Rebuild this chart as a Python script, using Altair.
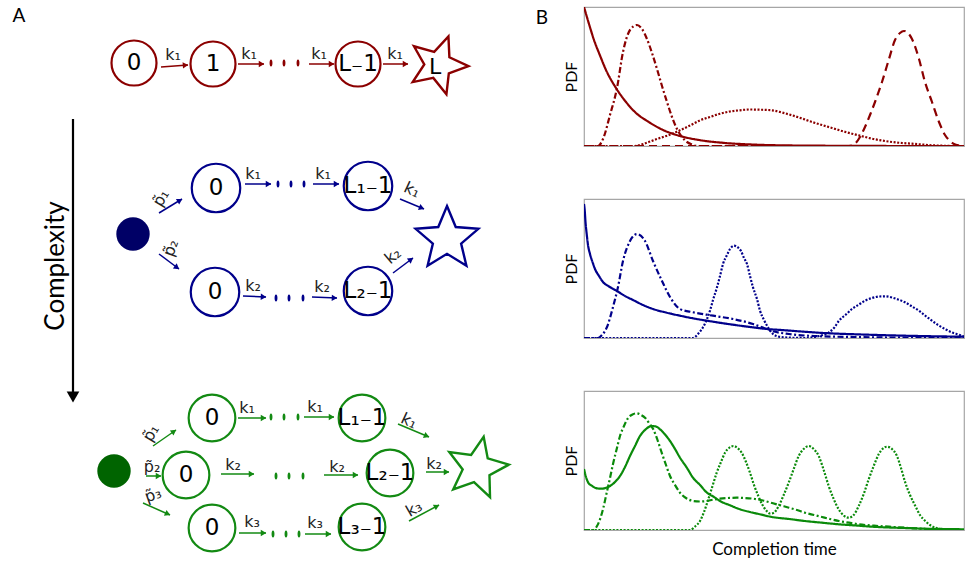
import math
import altair as alt
import pandas as pd

# ---------------- Panel B : curve values (x: time units, y: density units) ----------------
RED_SOLID_X = [0, 5, 10, 16, 22, 32, 42, 52, 64, 78, 96, 115, 140, 170, 210, 260, 320, 380]
RED_SOLID_Y = [139, 122, 106, 90.5, 76, 58, 44, 33, 24.5, 16.5, 10, 6, 3.1, 1.4, 0.5, 0.2, 0, 0]
RED_DASHDOT_X = [0, 14, 19, 26, 33, 39, 46, 53, 58, 63, 68, 73, 78, 83, 88, 93, 98, 103, 108, 113, 380]
RED_DASHDOT_Y = [0, 0, 7, 31, 58, 94, 116, 121, 117, 107, 93, 77, 60, 44, 29, 17, 9, 4, 1.5, 0, 0]
RED_DOTTED_X = [0, 50, 62, 73, 85, 96, 106, 116, 126, 136, 146, 156, 166, 176, 188, 198, 208, 218, 228,
                238, 248, 258, 268, 278, 288, 298, 308, 318, 328, 338, 348, 358, 368, 380]
RED_DOTTED_Y = [0, 0, 3, 7, 11, 15.7, 20.5, 25.7, 29, 32.3, 34.5, 35.7, 36.5, 36.3, 35.7, 33.5, 30.7, 27.5,
                24, 21, 18, 15, 12.3, 9.8, 7.3, 5.5, 4, 3, 2.3, 1.5, 0.7, 0.3, 0, 0]
RED_DASHED_X = [0, 265, 271, 276, 281, 286, 291, 298, 305, 311, 316, 320, 324, 328, 335, 341, 348, 355,
                361, 366, 370, 375, 380]
RED_DASHED_Y = [0, 0, 2.3, 9, 19, 31, 44, 64, 87, 106, 113, 115, 113, 107, 87, 64, 44, 24, 11, 5, 2, 0.5, 0]

BLUE_SOLID_X = [0, 0.7, 1.5, 2.7, 4, 6, 8.5, 11, 15, 19, 25, 33, 41, 49, 59, 69, 82, 96, 110, 123, 136,
                149, 166, 183, 200, 220, 245, 275, 305, 340, 380]
BLUE_SOLID_Y = [134, 128, 116, 104, 93, 84, 76, 69, 62, 56, 51.5, 47, 42, 38, 33, 29, 25.5, 22.3, 19.5,
                17.3, 15.2, 13.3, 11, 9, 7.8, 6.3, 4.7, 3.6, 2.7, 1.9, 1.3]
BLUE_DASHDOT_X = [0, 14, 18, 23, 29, 34, 39, 46, 53, 61, 69, 78, 86, 96, 109, 129, 149, 169, 180, 190,
                  205, 230, 270, 380]
BLUE_DASHDOT_Y = [0, 0, 3, 11, 31, 51, 77, 97, 104, 97, 77, 57, 41, 29, 25.7, 22.3, 19, 14, 10, 6.5, 4,
                  2, 1, 0]
BLUE_DOTTED_X = [0, 109, 114, 119, 123, 126, 129, 133, 136, 139, 143, 146, 150, 154, 157, 160, 163, 166,
                 169, 173, 176, 180, 183, 186, 189, 194, 200, 221, 235, 245, 250, 255, 262, 268, 275, 281,
                 288, 295, 301, 308, 314, 321, 328, 335, 341, 348, 354, 361, 368, 375, 380]
BLUE_DOTTED_Y = [0, 0, 4, 10.7, 19, 27.3, 38, 50.7, 62, 74, 83, 89, 92.3, 90.5, 87, 80, 74, 62, 50.7,
                 39, 27.3, 18, 12.3, 7.5, 4, 1.5, 0.7, 0, 2, 5.7, 10, 17.3, 23.5, 29, 33.5, 37.3, 40, 41.5,
                 41.7, 40.5, 38.5, 35.7, 31.5, 27.3, 22.5, 17.3, 13, 9, 5.5, 3.3, 1.3]

GREEN_SOLID_X = [0, 2, 4.3, 7.5, 11, 14, 17.7, 22, 26, 31, 36, 41, 46, 51, 56, 61, 67.7, 72, 76, 81, 86,
                 91, 96, 103, 109, 116, 123, 130, 136, 146, 156, 166, 176, 188, 205, 221, 238, 255, 272,
                 288, 305, 321, 340, 360, 380]
GREEN_SOLID_Y = [61, 53, 47.3, 44.5, 42.3, 41.5, 41.3, 42.2, 44, 48, 54, 63, 74, 84, 94, 100, 104, 103.5,
                 100.7, 95.5, 89, 81, 72.3, 62, 52.3, 45, 37.3, 33, 29, 24.7, 20.7, 18, 15.7, 13, 11, 9,
                 7.3, 5.7, 4.5, 3.3, 2.5, 2, 1.3, 1, 0.7]
GREEN_DASHDOT_X = [0, 9.3, 13, 16, 19.3, 22.7, 26, 29.3, 32.7, 36, 40, 44.3, 48.5, 52.7, 57, 61, 65, 69.3,
                   73.5, 77.7, 82, 86, 91, 96, 102, 109.3, 116, 122.7, 129, 136, 144, 152.7, 161, 169.3,
                   179, 189, 197, 205, 213, 221, 230, 238, 246, 255, 265, 275, 290, 305, 320, 338, 358, 380]
GREEN_DASHDOT_Y = [0, 0, 4, 10.7, 22, 37.3, 52, 67.3, 81, 94, 104, 112.3, 115.5, 116.7, 115, 112.3, 107,
                   100.7, 90, 77.3, 65, 54, 45, 37.3, 32, 29, 28.5, 29, 30.3, 31.3, 32, 32.3, 32, 31.3,
                   29.5, 26.7, 24.5, 22.3, 20, 17.3, 15, 13, 11, 9, 7.3, 5.7, 4.3, 3.3, 2.3, 1.3, 0.5, 0]
GREEN_DOTTED_X = [0, 106, 111, 116, 120, 124.3, 128.5, 132.7, 137, 141, 145, 149.3, 153.5, 157.7, 162,
                  166, 170, 174.3, 178.5, 182.7, 186, 189.5, 194.7, 199.7, 204.7, 209.7, 214.7, 219.7,
                  224.7, 229.7, 234.7, 239.7, 244.7, 249.7, 254.7, 259.7, 264.7, 269.7, 274.7, 279.7,
                  284.7, 289.7, 294.7, 299, 303, 308, 313, 317, 321.3, 326, 331.3, 336, 341.3, 346,
                  351.3, 356, 361.3, 380]
GREEN_DOTTED_Y = [0, 0, 3.5, 9, 18, 30.7, 44, 57.3, 68, 77.3, 82, 84, 82, 77.3, 68, 57.3, 45, 34, 25, 19,
                  16.5, 17, 24, 35, 47.3, 61, 74, 81, 84, 81, 74, 60, 44, 31, 20.7, 14.5, 12.3, 15, 24,
                  36, 50.7, 64, 75.7, 81.5, 83.3, 81, 74, 62, 47.3, 35, 24, 15, 9, 5, 2.3, 1, 0, 0]

# ---------------- Panel A : diagram elements ----------------
NODE_X = [133, 212, 357, 215, 367, 214, 367, 211, 361, 185, 389, 211, 361]
NODE_Y = [62, 63, 63, 187, 185, 291, 290, 417, 417, 474, 472, 527, 526]
NODE_LABEL = ["0", "1", "L\u208b1", "0", "L\u2081\u208b1", "0", "L\u2082\u208b1",
              "0", "L\u2081\u208b1", "0", "L\u2082\u208b1", "0", "L\u2083\u208b1"]
NODE_ROW = ["red"] * 3 + ["blue"] * 4 + ["green"] * 6

SOURCE_X = [132, 113]
SOURCE_Y = [233, 470]
SOURCE_ROW = ["blue", "green"]

STAR_X = [437, 446, 476]
STAR_Y = [64, 238, 467]
STAR_ANGLE = [20, 0, 12]
STAR_ROW = ["red", "blue", "green"]

ARROW_X1 = [160, 237, 308, 382,
            158, 158, 244, 312, 399, 242, 311, 392,
            152, 145, 142, 237, 303, 397, 220, 323, 425, 238, 304, 408]
ARROW_Y1 = [66, 63, 63, 63,
            212, 253, 183, 183, 198, 295, 296, 272,
            445, 475, 502, 417, 416, 423, 473, 474, 471, 532, 533, 520]
ARROW_X2 = [187, 263, 333, 407,
            181, 178, 270, 338, 423, 265, 336, 412,
            175, 160, 169, 265, 333, 428, 253, 357, 448, 265, 330, 438]
ARROW_Y2 = [64, 63, 63, 63,
            198, 268, 183, 183, 208, 296, 297, 257,
            429, 475, 514, 417, 416, 436, 473, 474, 471, 532, 533, 504]
ARROW_ROW = ["red"] * 4 + ["blue"] * 8 + ["green"] * 12

DOT_X = [270, 283, 297, 277, 290, 303, 275, 288, 302, 270, 283, 297, 275, 288, 302, 272, 285, 298]
DOT_Y = [62, 62, 62, 183, 183, 183, 297, 297, 297, 416, 416, 416, 475, 475, 475, 533, 533, 533]
DOT_ROW = ["red"] * 3 + ["blue"] * 6 + ["green"] * 9

K1, K2, K3 = "k\u2081", "k\u2082", "k\u2083"
P1, P2, P3 = "p\u0303\u2081", "p\u0303\u2082", "p\u0303\u2083"
RATE_X = [172, 248, 318, 394,
          160, 170, 252, 322, 411, 252, 321, 392,
          150, 151, 152, 246, 314, 408, 232, 336, 433, 251, 314, 413]
RATE_Y = [54, 53, 53, 53,
          197, 247, 173, 173, 189, 285, 286, 255,
          432, 466, 494, 407, 406, 420, 464, 466, 463, 521, 522, 508]
RATE_TEXT = [K1, K1, K1, K1,
             P1, P2, K1, K1, K1, K2, K2, K2,
             P1, P2, P3, K1, K1, K1, K2, K2, K2, K3, K3, K3]
RATE_ANGLE = [0, 0, 0, 0,
              300, 290, 0, 0, 25, 0, 0, 320,
              300, 0, 340, 0, 0, 25, 0, 0, 0, 0, 0, 330]

PANEL_TEXT = ["A", "B"]
PANEL_X = [18, 541]
PANEL_Y = [15, 17]

ROW_COLORS = {"red": "#8b0000", "blue": "#00008b", "green": "#138a13"}
SOURCE_FILL = {"blue": "#000066", "green": "#006400"}
PLOT_COLORS = {"red": "#8b0000", "blue": "#00008b", "green": "#0a8a0a"}
STAR_SIZE = {"red": 3721, "blue": 4356, "green": 4096}

STAR_PATH = ("M0,-1L0.265,-0.364L0.951,-0.309L0.428,0.139L0.588,0.809L0,0.45"
             "L-0.588,0.809L-0.428,0.139L-0.951,-0.309L-0.265,-0.364Z")
DOT_PATH = "M0,-1C0.55,-1,0.55,1,0,1C-0.55,1,-0.55,-1,0,-1Z"

DIAG_W = 560
TOP = 6
DIAG_H = 561 - TOP

# ---------------- build diagram ----------------
xs = alt.Scale(domain=[0, DIAG_W], nice=False, zero=False)
ys = alt.Scale(domain=[561, TOP], nice=False, zero=False)
X = alt.X("x:Q", scale=xs, axis=None)
Y = alt.Y("y:Q", scale=ys, axis=None)

nodes = pd.DataFrame({"x": NODE_X, "y": NODE_Y, "label": NODE_LABEL,
                      "c": [ROW_COLORS[r] for r in NODE_ROW],
                      "s": [2025 if r == "red" else (2350 if r == "blue" else 2180) for r in NODE_ROW]})
node_circles = alt.Chart(nodes).mark_point(shape="circle", filled=False, strokeWidth=2.2, opacity=1).encode(
    x=X, y=Y, stroke=alt.Stroke("c:N", scale=None), size=alt.Size("s:Q", scale=None))
node_text = alt.Chart(nodes).mark_text(font="DejaVu Sans", fontSize=23, color="black").encode(
    x=X, y=alt.Y("y:Q", scale=ys, axis=None), text="label:N")

sources = pd.DataFrame({"x": SOURCE_X, "y": SOURCE_Y, "c": [SOURCE_FILL[r] for r in SOURCE_ROW]})
source_marks = alt.Chart(sources).mark_point(shape="circle", filled=True, size=1115, opacity=1).encode(
    x=X, y=Y, fill=alt.Fill("c:N", scale=None))

stars = pd.DataFrame({"x": STAR_X, "y": STAR_Y, "a": STAR_ANGLE,
                      "c": [ROW_COLORS[r] for r in STAR_ROW], "s": [STAR_SIZE[r] for r in STAR_ROW]})
star_marks = alt.Chart(stars).mark_point(shape=STAR_PATH, filled=False, strokeWidth=2.4,
                                         opacity=1).encode(
    x=X, y=Y, stroke=alt.Stroke("c:N", scale=None), angle=alt.Angle("a:Q", scale=None),
    size=alt.Size("s:Q", scale=None))
star_label = alt.Chart(pd.DataFrame({"x": [434], "y": [66], "t": ["L"]})).mark_text(
    font="DejaVu Sans", fontSize=22, color="black").encode(x=X, y=Y, text="t:N")

arrows = pd.DataFrame({"x": ARROW_X1, "y": ARROW_Y1, "x2": ARROW_X2, "y2": ARROW_Y2,
                       "c": [ROW_COLORS[r] for r in ARROW_ROW]})
ang = []
hx = []
hy = []
for x1, y1, x2, y2 in zip(ARROW_X1, ARROW_Y1, ARROW_X2, ARROW_Y2):
    a = math.atan2(y2 - y1, x2 - x1)
    ang.append(math.degrees(a) % 360)
    hx.append(x2 - 2.5 * math.cos(a))
    hy.append(y2 - 2.5 * math.sin(a))
arrows["a"] = ang
arrows["hx"] = hx
arrows["hy"] = hy
shafts = alt.Chart(arrows).mark_rule(strokeWidth=1.5).encode(
    x=X, y=Y, x2="x2:Q", y2="y2:Q", color=alt.Color("c:N", scale=None))
heads = alt.Chart(arrows).mark_point(shape="triangle-right", filled=True, size=40, opacity=1).encode(
    x=alt.X("hx:Q", scale=xs, axis=None), y=alt.Y("hy:Q", scale=ys, axis=None),
    fill=alt.Fill("c:N", scale=None), angle=alt.Angle("a:Q", scale=None))

dots = pd.DataFrame({"x": DOT_X, "y": DOT_Y, "c": [ROW_COLORS[r] for r in DOT_ROW]})
dot_marks = alt.Chart(dots).mark_point(shape=DOT_PATH, filled=True, size=49, opacity=1).encode(
    x=X, y=Y, fill=alt.Fill("c:N", scale=None))

rates = pd.DataFrame({"x": RATE_X, "y": RATE_Y, "t": RATE_TEXT, "a": RATE_ANGLE})
rate_text = alt.Chart(rates).mark_text(font="DejaVu Sans", fontSize=16, color="#222222").encode(
    x=X, y=Y, text="t:N", angle=alt.Angle("a:Q", scale=None))

panels = pd.DataFrame({"x": PANEL_X, "y": PANEL_Y, "t": PANEL_TEXT})
panel_text = alt.Chart(panels).mark_text(font="Lato", fontSize=19, color="black").encode(
    x=X, y=Y, text="t:N")

cx = pd.DataFrame({"x": [55], "y": [265], "t": ["Complexity"], "a": [270]})
complexity = alt.Chart(cx).mark_text(font="Lato", fontSize=26, color="black").encode(
    x=X, y=Y, text="t:N", angle=alt.Angle("a:Q", scale=None))
big = pd.DataFrame({"x": [72], "y": [118], "y2": [392], "hy": [396]})
big_shaft = alt.Chart(big).mark_rule(strokeWidth=2.2, color="black").encode(x=X, y=Y, y2="y2:Q")
big_head = alt.Chart(big).mark_point(shape="triangle-down", filled=True, size=160, color="black",
                                     opacity=1).encode(
    x=X, y=alt.Y("hy:Q", scale=ys, axis=None))

diagram = alt.layer(shafts, heads, big_shaft, big_head, node_circles, node_text, source_marks,
                    star_marks, star_label, dot_marks, rate_text, panel_text, complexity).properties(
    width=DIAG_W, height=DIAG_H)

# ---------------- build PDF panels ----------------
STYLES = ["solid", "dashed", "dashdot", "dotted"]
DASHES = [[1, 0], [8, 5], [6, 2.5, 2, 2.5], [2, 1.6]]


def curves(series):
    rows = []
    for name, xs_, ys_ in series:
        for a, b in zip(xs_, ys_):
            rows.append({"style": name, "t": a, "pdf": b})
    return pd.DataFrame(rows)


def pdf_panel(df, color, show_x):
    if show_x:
        xaxis = alt.Axis(title="Completion time", labels=False, ticks=False, domain=False, grid=False,
                         titleFont="Lato", titleFontSize=17, titleFontWeight="normal",
                         titleColor="black", titlePadding=11)
    else:
        xaxis = None
    return alt.Chart(df).mark_line(color=color, strokeWidth=2.2, interpolate="monotone",
                                   clip=True).encode(
        x=alt.X("t:Q", scale=alt.Scale(domain=[0, 380], nice=False, zero=False), axis=xaxis),
        y=alt.Y("pdf:Q", scale=alt.Scale(domain=[0, 139], nice=False),
                axis=alt.Axis(title="PDF", labels=False, ticks=False, domain=False, grid=False,
                              titleFont="Lato", titleFontSize=16, titleFontWeight="normal",
                              titleColor="black", titlePadding=5)),
        strokeDash=alt.StrokeDash("style:N", scale=alt.Scale(domain=STYLES, range=DASHES), legend=None),
        detail="style:N",
    ).properties(width=380, height=139,
                 view=alt.ViewBackground(stroke="#a6a6a6", strokeWidth=1.2))


red_df = curves([("solid", RED_SOLID_X, RED_SOLID_Y), ("dashdot", RED_DASHDOT_X, RED_DASHDOT_Y),
                 ("dotted", RED_DOTTED_X, RED_DOTTED_Y), ("dashed", RED_DASHED_X, RED_DASHED_Y)])
blue_df = curves([("solid", BLUE_SOLID_X, BLUE_SOLID_Y), ("dashdot", BLUE_DASHDOT_X, BLUE_DASHDOT_Y),
                  ("dotted", BLUE_DOTTED_X, BLUE_DOTTED_Y)])
green_df = curves([("solid", GREEN_SOLID_X, GREEN_SOLID_Y), ("dashdot", GREEN_DASHDOT_X, GREEN_DASHDOT_Y),
                   ("dotted", GREEN_DOTTED_X, GREEN_DOTTED_Y)])

right = alt.vconcat(pdf_panel(red_df, PLOT_COLORS["red"], False),
                    pdf_panel(blue_df, PLOT_COLORS["blue"], False),
                    pdf_panel(green_df, PLOT_COLORS["green"], True), spacing=51)

chart = alt.hconcat(diagram, right, spacing=0).properties(
    padding={"left": 0, "top": TOP, "right": 0, "bottom": 0},
    background="white",
).configure_view(stroke="transparent")

chart.save("out.html", embed_options={"renderer": "svg", "actions": False})
